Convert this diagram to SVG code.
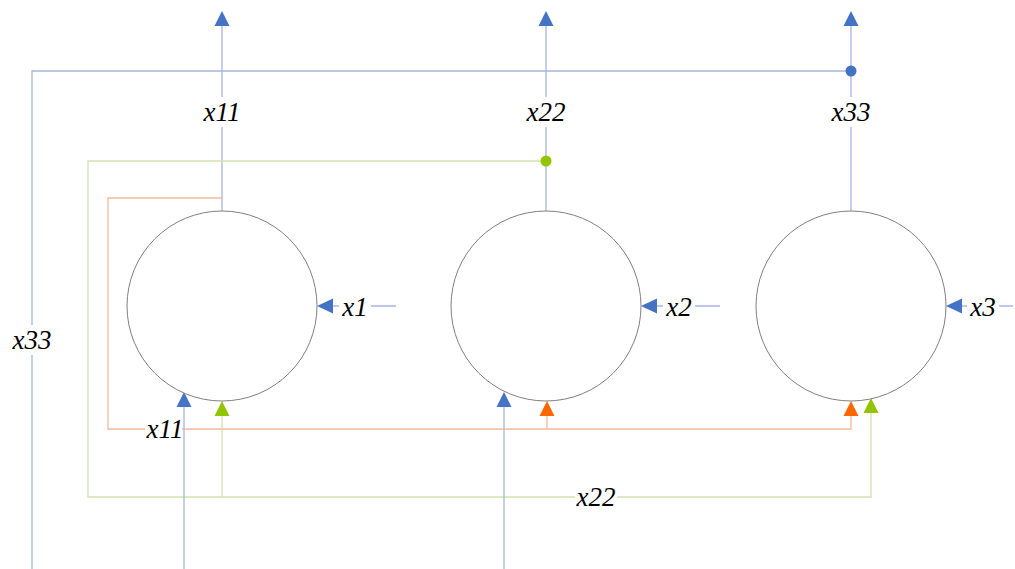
<svg xmlns="http://www.w3.org/2000/svg" width="1015" height="569" viewBox="0 0 1015 569">
<defs>
<style>
.node{fill:#fff;stroke:#7f7f7f;stroke-width:1}
.lb{fill:none;stroke:#a7b5de;stroke-width:1.3}
.lg{fill:none;stroke:#cfe3b0;stroke-width:1.3}
.lo{fill:none;stroke:#f7b99a;stroke-width:1.3}
.ab{fill:#4472c4}
.ag{fill:#92c500}
.ao{fill:#ff6600}
.t{font-family:"Liberation Serif","Times New Roman",serif;font-style:italic;font-size:27px;fill:#000;text-anchor:middle}
.bg{fill:#fff}
</style>
</defs>
<g id="connectors">
<path class="lb" d="M222,211 V24"/>
<path class="lb" d="M546,211 V24"/>
<path class="lb" d="M851,211 V24"/>
<polygon class="ab" points="222,11 214.5,26 229.5,26"/>
<polygon class="ab" points="546,11 538.5,26 553.5,26"/>
<polygon class="ab" points="851,11 843.5,26 858.5,26"/>
<path class="lb" d="M851,71 H32 V569"/>
<circle class="ab" cx="851" cy="71" r="5.5"/>
<path class="lg" d="M546,161 H88 V497 H871 V410"/>
<path class="lg" d="M222,497 V410"/>
<circle class="ag" cx="546" cy="161" r="5.5"/>
<polygon class="ag" points="871,398 863.5,413 878.5,413"/>
<polygon class="ag" points="222,401 214.5,416 229.5,416"/>
<path class="lo" d="M222,198 H108 V429 H851 V410"/>
<path class="lo" d="M547,429 V410"/>
<polygon class="ao" points="547,401 539.5,416 554.5,416"/>
<polygon class="ao" points="851,401 843.5,416 858.5,416"/>
<rect class="bg" x="145" y="414" width="37" height="30"/>
<path class="lb" d="M184,569 V402"/>
<path class="lb" d="M504,569 V402"/>
<polygon class="ab" points="184,392 176.5,407 191.5,407"/>
<polygon class="ab" points="504,392 496.5,407 511.5,407"/>
<path class="lb" d="M396,306 H330"/>
<path class="lb" d="M720,306 H654"/>
<path class="lb" d="M1013,306 H959"/>
<polygon class="ab" points="317,306 333,298.5 333,313.5"/>
<polygon class="ab" points="641,306 657,298.5 657,313.5"/>
<polygon class="ab" points="946,306 962,298.5 962,313.5"/>
<rect class="bg" x="201" y="97" width="42" height="30"/>
<text class="t" x="222" y="121">x11</text>
<rect class="bg" x="525" y="97" width="42" height="30"/>
<text class="t" x="546" y="121">x22</text>
<rect class="bg" x="830" y="97" width="42" height="30"/>
<text class="t" x="851" y="121">x33</text>
<rect class="bg" x="11" y="325" width="42" height="30"/>
<text class="t" x="32" y="349">x33</text>
<text class="t" x="165" y="438">x11</text>
<rect class="bg" x="575" y="482" width="42" height="30"/>
<text class="t" x="596" y="506">x22</text>
<rect class="bg" x="339" y="292" width="32" height="28"/>
<text class="t" x="355" y="316">x1</text>
<rect class="bg" x="663" y="292" width="32" height="28"/>
<text class="t" x="679" y="316">x2</text>
<rect class="bg" x="967" y="292" width="32" height="28"/>
<text class="t" x="983" y="316">x3</text>
</g>
<g id="node1"><circle class="node" cx="222" cy="306" r="95"/></g>
<g id="node2"><circle class="node" cx="546" cy="306" r="95"/></g>
<g id="node3"><circle class="node" cx="851" cy="306" r="95"/></g>
</svg>
